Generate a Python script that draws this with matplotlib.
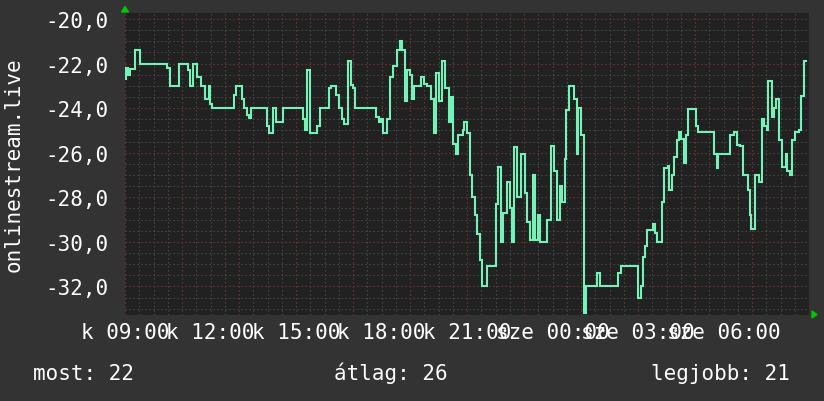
import matplotlib
matplotlib.use("Agg")
import matplotlib.pyplot as plt
import numpy as np

# ---------------- data ----------------
# minutes since "k 09:00" (start of each constant step) and the value held
minutes = [0, 2, 6, 11, 21, 32, 88, 95, 114, 133, 137, 143, 152, 160, 168, 177, 179, 183,
           229, 234, 246, 251, 257, 261, 265, 299, 303, 312, 318, 333,
           375, 379, 383, 389, 404, 411, 429, 434, 444, 451, 457, 461, 469, 476, 480, 484,
           528, 535, 539, 543, 552, 558, 564, 573, 579, 583, 589, 594, 600, 604, 608,
           623, 629, 636, 644, 651, 655, 661, 667, 674, 682, 686, 691, 697, 701,
           712, 714, 720, 726, 731, 737, 741, 747, 752, 762, 781, 785, 792, 796,
           804, 811, 815, 819, 825, 834, 842, 846, 853, 859, 863, 869, 874, 888,
           897, 903, 909, 916, 920, 926, 928, 935, 945, 952, 954, 960, 966, 971,
           994, 1000, 1038, 1044, 1080, 1086, 1091, 1095, 1099, 1112, 1116, 1120,
           1131, 1135, 1143, 1145, 1152, 1156, 1162, 1166, 1171, 1177, 1181, 1185,
           1202, 1206, 1240, 1246, 1248, 1274, 1282, 1288, 1295, 1301, 1312, 1316,
           1318, 1326, 1335, 1341, 1345, 1352, 1354, 1362, 1366, 1371, 1377, 1383,
           1392, 1394, 1400, 1404, 1411, 1419, 1423, 1429]
values = [-22.7, -22.2, -22.5, -22.25, -21.4, -22.0, -22.2, -23.0, -22.0, -22.3, -23.0, -22.0,
          -22.6, -23.0, -23.6, -23.0, -23.8, -24.0,
          -23.4, -23.0, -23.6, -24.0, -24.3, -24.45, -24.0, -24.8, -25.1, -24.0, -24.6, -24.0,
          -24.5, -25.0, -22.3, -25.1, -24.8, -24.0, -23.1, -23.0, -23.4, -24.0, -24.5, -24.7,
          -21.9, -22.95, -23.1, -24.0,
          -24.4, -24.6, -24.5, -25.1, -24.5, -22.6, -22.1, -21.4, -21.0, -21.4, -23.7, -22.3,
          -22.5, -23.6, -23.0,
          -22.6, -22.9, -23.0, -23.6, -25.1, -22.4, -23.7, -21.9, -23.1, -24.6, -23.5, -25.6,
          -26.05, -25.2,
          -25.0, -24.6, -25.1, -27.0, -28.0, -28.8, -29.65, -30.8, -32.0, -31.1, -28.3, -26.65,
          -30.0, -28.7,
          -27.3, -28.5, -30.0, -25.75, -28.0, -26.05, -27.8, -29.1, -29.9, -27.0, -29.9, -28.8,
          -30.0, -29.0,
          -25.7, -26.8, -29.0, -27.5, -28.2, -26.3, -24.1, -23.0, -23.6, -26.05, -24.0, -25.2,
          -33.2, -32.0,
          -31.4, -32.0, -31.4, -31.07, -32.5, -32.0, -30.7, -30.2, -29.45, -29.2, -29.6, -30.0,
          -28.2, -26.7, -26.6, -27.65, -27.0, -26.2, -25.45, -25.05, -25.4, -26.45, -25.2,
          -24.05,
          -24.8, -25.05, -26.05, -26.7, -26.05, -25.2, -25.05, -25.65, -25.7, -27.0, -27.65,
          -28.8,
          -29.4, -27.0, -27.3, -24.5, -24.8, -25.0, -22.8, -24.4, -24.0, -23.6, -25.45, -26.65,
          -26.05, -26.8, -27.0, -25.45, -25.05, -25.0, -23.45, -21.9]
end_minute = 1434
span_minutes = 1440

xtick_minutes = [0, 180, 360, 540, 720, 900, 1080, 1260]
xtick_labels = ["k 09:00", "k 12:00", "k 15:00", "k 18:00", "k 21:00",
                "sze 00:00", "sze 03:00", "sze 06:00"]
ytick_values = [-20, -22, -24, -26, -28, -30, -32]
ytick_labels = ["-20,0", "-22,0", "-24,0", "-26,0", "-28,0", "-30,0", "-32,0"]
y_label = "onlinestream.live"
legend_names = ["most", "átlag", "legjobb"]
legend_values = [22, 26, 21]

# ---------------- style ----------------
W, H = 824, 402
BG = "#333333"
CANVAS = "#212121"
LINE = "#74F2B8"
MINOR = "#4e4e4e"
MAJOR = "#6e2a2a"
ARROW = "#00c800"
MONO = "DejaVu Sans Mono"

fig = plt.figure(figsize=(W / 100, H / 100), dpi=100, facecolor=BG)
L, R, T, B = 125, 809, 14, 316
ax = fig.add_axes([L / W, (H - B) / H, (R - L) / W, (B - T) / H])
ax.set_facecolor(CANVAS)
for s in ax.spines.values():
    s.set_visible(False)

ymin, ymax = -33.28, -19.73
ax.set_xlim(0, span_minutes)
ax.set_ylim(ymin, ymax)

# grid
dot = (0, (1.2, 2.4))
for xv in np.arange(0, span_minutes + 1, 30):
    ax.axvline(xv, color=MINOR, lw=0.8, ls=dot, zorder=1)
for yv in np.arange(-33.0, -19.5, 0.5):
    ax.axhline(yv, color=MINOR, lw=0.8, ls=dot, zorder=1)
for xv in np.arange(0, span_minutes + 1, 120):
    ax.axvline(xv, color=MAJOR, lw=0.8, ls=dot, zorder=2)
for yv in ytick_values:
    ax.axhline(yv, color=MAJOR, lw=0.8, ls=dot, zorder=2)

# data line
xs = minutes + [end_minute]
ys = values + [values[-1]]
ax.step(xs, ys, where="post", color=LINE, lw=1.5, zorder=5, solid_joinstyle="miter")

# ticks
ax.set_xticks(xtick_minutes)
ax.set_xticklabels(xtick_labels)
ax.set_yticks(ytick_values)
ax.set_yticklabels(ytick_labels)
ax.tick_params(axis="both", length=0, colors="white", labelsize=15)
ax.tick_params(axis="x", pad=5)
ax.tick_params(axis="y", pad=12)
for lab in ax.get_xticklabels() + ax.get_yticklabels():
    lab.set_family(MONO)

fig.text(14 / W, (H - 165) / H, y_label, rotation=90, ha="center", va="center",
         color="white", fontsize=15, family=MONO)

# legend line
legend_x = [33, 334, 651]
for name, val, lx in zip(legend_names, legend_values, legend_x):
    fig.text(lx / W, 22 / H, f"{name}: {val}", ha="left", va="baseline",
             color="white", fontsize=15, family=MONO)

# axis arrows
fig.add_artist(plt.Polygon([[L / W, (H - 7.5) / H], [(L - 3.5) / W, (H - 13) / H],
                            [(L + 3.5) / W, (H - 13) / H]], closed=True,
                           transform=fig.transFigure, color=ARROW))
fig.add_artist(plt.Polygon([[(R + 8) / W, (H - B + 0.5) / H], [(R + 3) / W, (H - B + 4) / H],
                            [(R + 3) / W, (H - B - 3) / H]], closed=True,
                           transform=fig.transFigure, color=ARROW))

fig.savefig("out.png", dpi=100, facecolor=BG)
